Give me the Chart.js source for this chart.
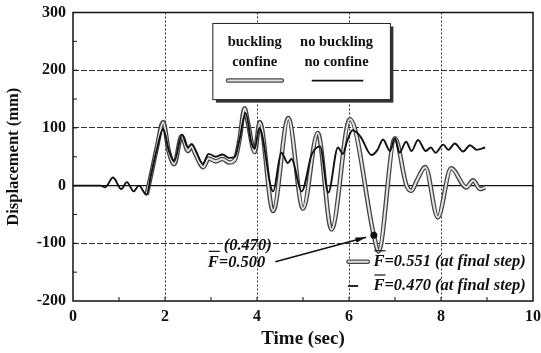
<!DOCTYPE html>
<html>
<head>
<meta charset="utf-8">
<script src="https://cdn.jsdelivr.net/npm/chart.js"></script>
<style>
  html, body { margin: 0; padding: 0; background: #fff; }
  #wrap { width: 541px; height: 353px; }
</style>
</head>
<body>
<div id="wrap"><canvas id="dispChart" width="541" height="353"></canvas></div>
<script>
// buckling + confine (double gray line)
const timeConfine = [1.6, 1.7, 1.82, 1.96, 2.08, 2.2, 2.36, 2.5, 2.57, 2.66, 2.83, 2.95, 3.1, 3.25, 3.4, 3.52, 3.62, 3.73, 3.8, 3.95, 4.06, 4.35, 4.68, 5.0, 5.32, 5.62, 6.02, 6.54, 6.64, 7.0, 7.25, 7.36, 7.47, 7.66, 7.93, 8.22, 8.55, 8.7, 8.85, 8.96];
const dispConfine = [-16, 20, 65, 110, 60, 37, 86, 60, 68, 55, 32, 47, 42, 46, 40, 45, 80, 134, 110, 58, 110, -44, 117, -40, 91, -76, 115, -86, -114, 82, 0, -9, 8, 32, -55, 30, -3, 9, -6, -3];
// no buckling + no confine (thin black line)
const timeNoConfine = [0, 0.6, 0.7, 0.87, 1.05, 1.17, 1.32, 1.43, 1.6, 1.7, 1.82, 1.96, 2.08, 2.2, 2.37, 2.5, 2.58, 2.66, 2.82, 2.95, 3.1, 3.25, 3.4, 3.52, 3.62, 3.75, 3.88, 3.95, 4.05, 4.35, 4.53, 4.67, 4.75, 4.97, 5.19, 5.37, 5.55, 5.76, 5.87, 5.95, 6.08, 6.25, 6.49, 6.62, 6.74, 6.89, 7.0, 7.1, 7.24, 7.36, 7.5, 7.67, 7.78, 7.88, 8.05, 8.16, 8.3, 8.48, 8.63, 8.78, 8.96];
const dispNoConfine = [0, 0, -3, 14, -6, 6, -10, 0, -16, 20, 62, 98, 62, 42, 88, 66, 72, 62, 38, 55, 50, 54, 48, 50, 80, 126, 74, 64, 100, -10, 57, 39, 46, -10, 54, 68, -12, 66, 55, 75, 96, 85, 53, 62, 80, 60, 82, 57, 76, 60, 79, 60, 66, 57, 71, 62, 73, 59, 70, 62, 66];

const xTicks = [0, 2, 4, 6, 8, 10];
const yTicks = [-200, -100, 0, 100, 200, 300];
const seriesNames = [['buckling', 'confine'], ['no buckling', 'no confine']];
const finalNotes = ['=0.551 (at final step)', '=0.470 (at final step)'];
const markNote = ['(0.470)', '=0.500'];
const markTime = 6.54; // marked point on the buckling curve

const toPts = (ts, vs) => ts.map((t, i) => ({ x: t, y: vs[i] }));
const SERIF = "'Liberation Serif', 'Times New Roman', serif";

// inward minor ticks, frame, zero line, legend box, annotations
const decor = {
  id: 'decor',
  beforeDatasetsDraw(chart) {
    const { ctx, chartArea: a, scales: { x, y } } = chart;
    ctx.save();
    ctx.strokeStyle = '#111';
    ctx.lineWidth = 1.2;
    ctx.setLineDash([]);
    ctx.beginPath();
    ctx.moveTo(a.left, y.getPixelForValue(0));
    ctx.lineTo(a.right, y.getPixelForValue(0));
    ctx.stroke();
    ctx.lineWidth = 1;
    for (let v = -150; v < 300; v += 50) {
      const p = y.getPixelForValue(v);
      ctx.beginPath(); ctx.moveTo(a.left, p); ctx.lineTo(a.left + 4, p); ctx.stroke();
    }
    for (let t = 1; t < 10; t += 1) {
      const p = x.getPixelForValue(t);
      ctx.beginPath(); ctx.moveTo(p, a.bottom); ctx.lineTo(p, a.bottom - 4); ctx.stroke();
    }
    ctx.restore();
  },
  afterDatasetsDraw(chart) {
    const { ctx, chartArea: a, scales: { x, y } } = chart;
    const px = v => x.getPixelForValue(v);
    const py = v => y.getPixelForValue(v);
    ctx.save();

    // frame
    ctx.strokeStyle = '#111';
    ctx.lineWidth = 1.5;
    ctx.strokeRect(a.left, a.top, a.right - a.left, a.bottom - a.top);

    // legend box
    const bx1 = px(3.04), bx2 = px(6.9), by1 = py(281), by2 = py(149);
    ctx.fillStyle = '#333';
    ctx.fillRect(bx1 + 3, by1 + 3, bx2 - bx1, by2 - by1);
    ctx.fillStyle = '#fff';
    ctx.fillRect(bx1, by1, bx2 - bx1, by2 - by1);
    ctx.lineWidth = 1;
    ctx.strokeStyle = '#222';
    ctx.strokeRect(bx1, by1, bx2 - bx1, by2 - by1);

    ctx.fillStyle = '#111';
    ctx.font = 'bold 14.5px ' + SERIF;
    ctx.textAlign = 'center';
    ctx.textBaseline = 'middle';
    ctx.fillText(seriesNames[0][0], px(3.95), py(248));
    ctx.fillText(seriesNames[0][1], px(3.95), py(213));
    ctx.fillText(seriesNames[1][0], px(5.73), py(248));
    ctx.fillText(seriesNames[1][1], px(5.73), py(213));

    const grayLine = (x1, x2, yy) => {
      ctx.lineCap = 'round';
      ctx.strokeStyle = '#444'; ctx.lineWidth = 4.5;
      ctx.beginPath(); ctx.moveTo(x1, yy); ctx.lineTo(x2, yy); ctx.stroke();
      ctx.strokeStyle = '#e2e2e2'; ctx.lineWidth = 2;
      ctx.beginPath(); ctx.moveTo(x1, yy); ctx.lineTo(x2, yy); ctx.stroke();
      ctx.lineCap = 'butt';
    };
    const blackLine = (x1, x2, yy) => {
      ctx.strokeStyle = '#111'; ctx.lineWidth = 1.8;
      ctx.beginPath(); ctx.moveTo(x1, yy); ctx.lineTo(x2, yy); ctx.stroke();
    };
    grayLine(px(3.37), px(4.54), py(182));
    blackLine(px(5.19), px(6.31), py(182));

    // F with overbar, then rest of text
    const fbar = (rest, left, yy) => {
      ctx.textAlign = 'left';
      ctx.textBaseline = 'middle';
      ctx.fillText('F', left, yy);
      const wF = ctx.measureText('F').width;
      ctx.lineWidth = 1.2; ctx.strokeStyle = '#111';
      ctx.beginPath(); ctx.moveTo(left + 1, yy - 11); ctx.lineTo(left + wF + 1, yy - 11); ctx.stroke();
      ctx.fillText(rest, left + wF, yy);
    };

    // marked point + arrow
    ctx.font = 'italic bold 16.5px ' + SERIF;
    ctx.fillStyle = '#111';
    ctx.textAlign = 'center';
    ctx.fillText(markNote[0], px(3.8), py(-104));
    fbar(markNote[1], px(2.93), py(-133));

    const mi = timeConfine.indexOf(markTime);
    const tx = px(markTime), ty = py(dispConfine[mi]);
    const sx = px(4.4), sy = py(-132);
    const ang = Math.atan2(ty - sy, tx - sx);
    const ex = tx - 8 * Math.cos(ang), ey = ty - 8 * Math.sin(ang);
    ctx.lineWidth = 1.5;
    ctx.beginPath(); ctx.moveTo(sx, sy); ctx.lineTo(ex, ey); ctx.stroke();
    ctx.beginPath();
    ctx.moveTo(ex, ey);
    ctx.lineTo(ex - 11 * Math.cos(ang - 0.25), ey - 11 * Math.sin(ang - 0.25));
    ctx.lineTo(ex - 11 * Math.cos(ang + 0.25), ey - 11 * Math.sin(ang + 0.25));
    ctx.closePath(); ctx.fill();
    ctx.beginPath(); ctx.arc(tx, ty, 3.5, 0, Math.PI * 2); ctx.fill();

    // final-step notes
    grayLine(px(5.99), px(6.41), py(-132));
    blackLine(px(5.98), px(6.2), py(-174));
    ctx.font = 'italic bold 16.5px ' + SERIF;
    ctx.fillStyle = '#111';
    fbar(finalNotes[0], px(6.53), py(-132));
    fbar(finalNotes[1], px(6.53), py(-174));

    ctx.restore();
  }
};

new Chart(document.getElementById('dispChart'), {
  type: 'line',
  data: {
    datasets: [
      { data: toPts(timeNoConfine, dispNoConfine), borderColor: '#111', borderWidth: 1.9, order: 0 },
      { data: toPts(timeConfine, dispConfine), borderColor: '#e4e4e4', borderWidth: 2, order: 1 },
      { data: toPts(timeConfine, dispConfine), borderColor: '#444', borderWidth: 4.6, order: 2 }
    ]
  },
  options: {
    responsive: false,
    animation: false,
    layout: { padding: { top: 12.5, right: 8, left: 0, bottom: 0 } },
    elements: {
      point: { radius: 0 },
      line: { cubicInterpolationMode: 'monotone', fill: false }
    },
    plugins: { legend: { display: false }, tooltip: { enabled: false } },
    scales: {
      x: {
        type: 'linear', min: 0, max: 10,
        afterBuildTicks: s => { s.ticks = xTicks.map(v => ({ value: v })); },
        afterFit: s => { s.height = 52; s.paddingLeft = 0; s.paddingRight = 0; },
        ticks: { color: '#111', font: { family: SERIF, size: 16, weight: 'bold' }, padding: 6, maxRotation: 0 },
        grid: {
          drawTicks: false,
          color: c => (c.tick && (c.tick.value === 0 || c.tick.value === 10)) ? 'rgba(0,0,0,0)' : '#333',
          lineWidth: 1
        },
        border: { display: false, dash: [2, 2] },
        title: { display: true, text: 'Time (sec)', color: '#111', font: { family: SERIF, size: 19, weight: 'bold' }, padding: { top: 0, bottom: 3 } }
      },
      y: {
        min: -200, max: 300,
        afterBuildTicks: s => { s.ticks = yTicks.map(v => ({ value: v })); },
        afterFit: s => { s.width = 73; s.paddingTop = 0; s.paddingBottom = 0; },
        ticks: { color: '#111', font: { family: SERIF, size: 16, weight: 'bold' }, padding: 7 },
        grid: {
          drawTicks: false,
          color: c => (c.tick && (c.tick.value === -200 || c.tick.value === 300)) ? 'rgba(0,0,0,0)' : '#333',
          lineWidth: 1
        },
        border: { display: false, dash: [6, 2] },
        title: { display: true, text: 'Displacement (mm)', color: '#111', font: { family: SERIF, size: 16.5, weight: 'bold' }, padding: { top: 4, bottom: 0 } }
      }
    }
  },
  plugins: [decor]
});
</script>
</body>
</html>
